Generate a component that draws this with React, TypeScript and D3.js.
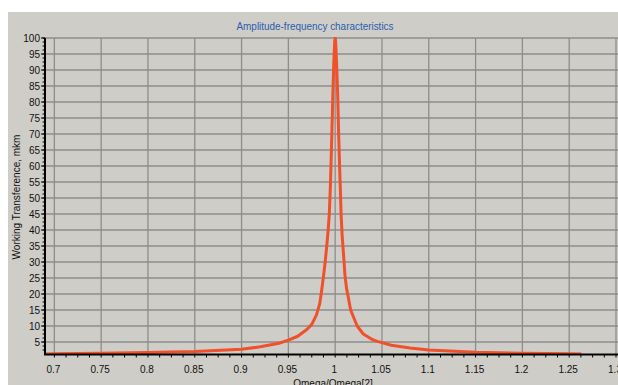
import React from "react";
import * as d3 from "d3";

const title = "Amplitude-frequency characteristics";
const xTitle = "Omega/Omega[2]";
const yTitle = "Working Transference, mkm";

const xTicks = [0.7, 0.75, 0.8, 0.85, 0.9, 0.95, 1, 1.05, 1.1, 1.15, 1.2, 1.25, 1.3];
const yTicks = [5, 10, 15, 20, 25, 30, 35, 40, 45, 50, 55, 60, 65, 70, 75, 80, 85, 90, 95, 100];

const ratio = [
  0.69, 0.7, 0.75, 0.8, 0.85, 0.9, 0.92, 0.94, 0.95, 0.96, 0.97, 0.975, 0.98, 0.9835, 0.9855,
  0.9875, 0.9893, 0.991, 0.9925, 0.9937, 0.9948, 0.9958, 0.9966, 0.9975, 0.9985, 0.9995, 1.0,
  1.0005, 1.0015, 1.0027, 1.0037, 1.0047, 1.0055, 1.0063, 1.0075, 1.009, 1.0104, 1.012, 1.014,
  1.0165, 1.0235, 1.03, 1.04, 1.045, 1.05, 1.06, 1.08, 1.1, 1.15, 1.2, 1.25, 1.263,
];
const amplitude = [
  1.25, 1.3, 1.5, 1.7, 2.0, 2.7, 3.5, 4.6, 5.6, 6.8, 9.0, 10.5, 13.5, 17, 21,
  25.5, 30, 35, 40, 45, 53, 63, 72, 82, 92, 99, 100,
  99, 92, 82, 70, 60, 53, 45, 38, 32, 26, 22, 19,
  15, 10, 7.5, 5.7, 5.2, 4.8, 4.0, 3.1, 2.5, 1.8, 1.5, 1.3, 1.25,
];

const W = 618;
const H = 385;
const left = 45;
const right = 616;
const top = 38;
const bottom = 354;

export default function App() {
  const x = d3.scaleLinear().domain([0.69, 1.3]).range([left, right]);
  const y = d3.scaleLinear().domain([1.25, 100]).range([bottom, top]);
  const pts: [number, number][] = ratio.map((r, i) => [r, amplitude[i]]);
  const line = d3
    .line<[number, number]>()
    .x((d) => x(d[0]))
    .y((d) => y(d[1]));

  const xMinor: number[] = [];
  for (let i = 0; i <= 52; i++) {
    const v = 0.6875 + i * 0.0125;
    if (x(v) > left + 1 && x(v) < W) xMinor.push(v);
  }
  const yMinor: number[] = [];
  for (let i = 1; i <= 80; i++) {
    const v = i * 1.25;
    if (v > 1.25 && v <= 100) yMinor.push(v);
  }

  const font = "'Liberation Sans', Arial, sans-serif";
  const grid = "#8d8d8d";

  return (
    <svg
      width={W}
      height={H}
      style={{ position: "absolute", left: 0, top: 0, display: "block" }}
    >
      <rect x={0} y={0} width={W} height={H} fill="#ffffff" />
      <rect x={8} y={12} width={W - 8} height={H - 12} fill="#cfcdc7" />
      <defs>
        <clipPath id="plot">
          <rect x={left} y={top - 1} width={W - left} height={bottom - top + 1} />
        </clipPath>
      </defs>
      <text
        x={315}
        y={29.5}
        textAnchor="middle"
        fontFamily={font}
        fontSize={10.5}
        fill="#2a5db0"
        textLength={157}
        lengthAdjust="spacingAndGlyphs"
      >
        {title}
      </text>
      {yTicks.map((t) => (
        <line key={"gy" + t} x1={left} x2={W} y1={y(t)} y2={y(t)} stroke={grid} strokeWidth={1.3} />
      ))}
      {xTicks.map((t) => (
        <line key={"gx" + t} x1={x(t)} x2={x(t)} y1={top} y2={bottom} stroke={grid} strokeWidth={1.3} />
      ))}
      <path
        d={line(pts) || ""}
        fill="none"
        stroke="#f0502a"
        strokeWidth={3}
        strokeLinejoin="round"
        clipPath="url(#plot)"
      />
      {yMinor.map((t) => (
        <line key={"my" + t} x1={left - 2.5} x2={left} y1={y(t)} y2={y(t)} stroke="#000" strokeWidth={1} />
      ))}
      {yTicks.map((t) => (
        <line key={"ty" + t} x1={left - 4} x2={left} y1={y(t)} y2={y(t)} stroke="#000" strokeWidth={1} />
      ))}
      {xMinor.map((t) => (
        <line key={"mx" + t} x1={x(t)} x2={x(t)} y1={bottom} y2={bottom + 3.5} stroke="#000" strokeWidth={1} />
      ))}
      <line x1={left} x2={left} y1={top} y2={bottom + 1} stroke="#000" strokeWidth={2} />
      <line x1={left - 1} x2={W} y1={bottom + 0.5} y2={bottom + 0.5} stroke="#000" strokeWidth={2} />
      {yTicks.map((t) => (
        <text
          key={"ly" + t}
          x={40}
          y={y(t) + 3.6}
          textAnchor="end"
          fontFamily={font}
          fontSize={10}
          fill="#111"
        >
          {t}
        </text>
      ))}
      {xTicks.map((t) => (
        <text
          key={"lx" + t}
          x={x(t) - 1}
          y={373}
          textAnchor="middle"
          fontFamily={font}
          fontSize={10}
          fill="#111"
        >
          {d3.format("")(t)}
        </text>
      ))}
      <text x={333} y={387} textAnchor="middle" fontFamily={font} fontSize={10} fill="#111">
        {xTitle}
      </text>
      <text
        transform={`translate(20,197) rotate(-90)`}
        textAnchor="middle"
        fontFamily={font}
        fontSize={10}
        fill="#111"
      >
        {yTitle}
      </text>
    </svg>
  );
}
